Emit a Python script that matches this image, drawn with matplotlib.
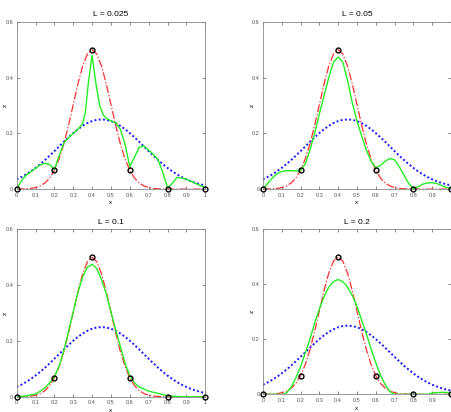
import matplotlib
matplotlib.use("Agg")
import matplotlib.pyplot as plt

titles = ["L = 0.025", "L = 0.05", "L = 0.1", "L = 0.2"]

x_fine = [0, 0.025, 0.05, 0.075, 0.1, 0.125, 0.15, 0.175, 0.2, 0.225, 0.25, 0.275, 0.3, 0.325,
          0.35, 0.375, 0.4, 0.425, 0.45, 0.475, 0.5, 0.525, 0.55, 0.575, 0.6, 0.625, 0.65, 0.675,
          0.7, 0.725, 0.75, 0.775, 0.8, 0.825, 0.85, 0.875, 0.9, 0.925, 0.95, 0.975, 1.0]

true_z = [0.0002, 0.0004, 0.0011, 0.0025, 0.0056, 0.0114, 0.022, 0.0398, 0.0677, 0.1082, 0.1623,
          0.2289, 0.3033, 0.3774, 0.4412, 0.4846, 0.5, 0.4846, 0.4412, 0.3774, 0.3033, 0.2289,
          0.1623, 0.1082, 0.0677, 0.0398, 0.022, 0.0114, 0.0056, 0.0025, 0.0011, 0.0004, 0.0002,
          0.0001, 0.0, 0.0, 0.0, 0.0, 0.0, 0.0, 0.0]

prior_z = [0.035, 0.0433, 0.0529, 0.0638, 0.0761, 0.0897, 0.1043, 0.12, 0.1362, 0.1529, 0.1696,
           0.1857, 0.201, 0.2148, 0.2269, 0.2367, 0.244, 0.2485, 0.25, 0.2485, 0.244, 0.2367,
           0.2269, 0.2148, 0.201, 0.1857, 0.1696, 0.1529, 0.1362, 0.12, 0.1043, 0.0897, 0.0761,
           0.0638, 0.0529, 0.0433, 0.035, 0.028, 0.0221, 0.0172, 0.0133]

obs_x = [0, 0.2, 0.4, 0.6, 0.8, 1.0]
obs_z = [0.0, 0.0677, 0.5, 0.0677, 0.0, 0.0]

est_x = [
    [0, 0.025, 0.05, 0.075, 0.1, 0.125, 0.15, 0.175, 0.2, 0.225, 0.25, 0.275, 0.3, 0.325, 0.35,
     0.365, 0.38, 0.4, 0.42, 0.44, 0.46, 0.48, 0.5, 0.525, 0.55, 0.575, 0.6, 0.625, 0.65, 0.675,
     0.7, 0.725, 0.75, 0.775, 0.8, 0.825, 0.85, 0.875, 0.9, 0.95, 1.0],
    x_fine,
    [0, 0.05, 0.1, 0.125, 0.15, 0.175, 0.2, 0.225, 0.25, 0.275, 0.3, 0.325, 0.35, 0.375, 0.4,
     0.425, 0.45, 0.475, 0.5, 0.525, 0.55, 0.575, 0.6, 0.625, 0.65, 0.7, 0.75, 0.8, 0.85, 0.9, 1.0],
    [0, 0.05, 0.1, 0.11, 0.125, 0.15, 0.175, 0.2, 0.225, 0.25, 0.275, 0.3, 0.325, 0.35, 0.375,
     0.4, 0.425, 0.45, 0.475, 0.5, 0.525, 0.55, 0.575, 0.6, 0.625, 0.65, 0.675, 0.7, 0.75, 0.8,
     0.85, 0.88, 0.9, 0.95, 1.0],
]
est_z = [
    [0, 0.03, 0.05, 0.062, 0.075, 0.087, 0.093, 0.088, 0.07, 0.12, 0.165, 0.185, 0.2, 0.215,
     0.235, 0.28, 0.38, 0.48, 0.38, 0.3, 0.265, 0.252, 0.245, 0.238, 0.215, 0.16, 0.08, 0.115,
     0.15, 0.155, 0.14, 0.125, 0.105, 0.06, 0.005, 0.02, 0.042, 0.04, 0.035, 0.02, 0.005],
    [0, 0.02, 0.04, 0.055, 0.063, 0.066, 0.066, 0.065, 0.067, 0.09, 0.14, 0.2, 0.27, 0.335, 0.4,
     0.455, 0.474, 0.455, 0.39, 0.31, 0.245, 0.19, 0.14, 0.1, 0.077, 0.085, 0.1, 0.11, 0.105,
     0.08, 0.05, 0.02, 0.002, 0.008, 0.018, 0.022, 0.023, 0.02, 0.013, 0.006, 0.002],
    [0, 0.003, 0.01, 0.02, 0.032, 0.05, 0.072, 0.11, 0.165, 0.235, 0.305, 0.375, 0.43, 0.465,
     0.475, 0.46, 0.42, 0.37, 0.305, 0.24, 0.18, 0.12, 0.075, 0.05, 0.035, 0.02, 0.012, 0.004,
     0.001, 0, 0],
    [0, 0, 0, 0, 0.005, 0.025, 0.06, 0.1, 0.15, 0.2, 0.26, 0.31, 0.355, 0.39, 0.41, 0.418, 0.41,
     0.39, 0.36, 0.32, 0.27, 0.22, 0.165, 0.115, 0.07, 0.035, 0.01, 0, 0, 0, 0, 0, 0.005, 0.007,
     0.006],
]

xticks = [0, 0.1, 0.2, 0.3, 0.4, 0.5, 0.6, 0.7, 0.8, 0.9, 1]
xticklabels = ["0", "0.1", "0.2", "0.3", "0.4", "0.5", "0.6", "0.7", "0.8", "0.9", "1"]
xticklabels_right = ["0", "0.1", "0.2", "0.3", "0.4", "0.5", "0.6", "0.7", "0.8", "0.9", ""]
yticks = [0, 0.2, 0.4, 0.6]
yticklabels = ["0", "0.2", "0.4", "0.6"]

plt.rcParams['font.family'] = ['Liberation Sans', 'DejaVu Sans']
fig = plt.figure(figsize=(4.51, 4.12), dpi=100)

positions = [
    [0.037, 0.541, 0.418, 0.406],
    [0.583, 0.541, 0.417, 0.406],
    [0.037, 0.037, 0.418, 0.406],
    [0.583, 0.043, 0.417, 0.400],
]

for i in range(4):
    ax = fig.add_axes(positions[i])
    ax.plot(x_fine, prior_z, color='#1a1aff', linestyle=(0, (1, 1.2)), linewidth=1.4)
    ax.plot(x_fine, true_z, color='#ff3030', linestyle='-.', linewidth=0.9)
    ax.plot(est_x[i], est_z[i], color='#22ee22', linestyle='-', linewidth=1.0)
    ax.plot(obs_x, obs_z, linestyle='none', marker='o', markersize=3.5,
            markerfacecolor='none', markeredgecolor='black', markeredgewidth=1.0,
            clip_on=False, zorder=5)
    ax.set_xlim(0, 1)
    ax.set_ylim(0, 0.6)
    ax.set_xticks(xticks)
    ax.set_xticklabels(xticklabels if i % 2 == 0 else xticklabels_right)
    ax.set_yticks(yticks)
    ax.set_yticklabels(yticklabels)
    ax.tick_params(direction='in', length=2, width=0.5, labelsize=4, colors='#555555',
                   top=True, right=True, pad=2.5)
    for sp in ax.spines.values():
        sp.set_color('#888888')
        sp.set_linewidth(0.6)
    ax.set_title(titles[i], fontsize=6, pad=4)
    ax.set_xlabel("x", fontsize=4.5, labelpad=2)
    ax.set_ylabel("z", fontsize=4.5)
    ax.yaxis.set_label_coords(-0.045, 0.5)

fig.savefig("out.png", dpi=100)
